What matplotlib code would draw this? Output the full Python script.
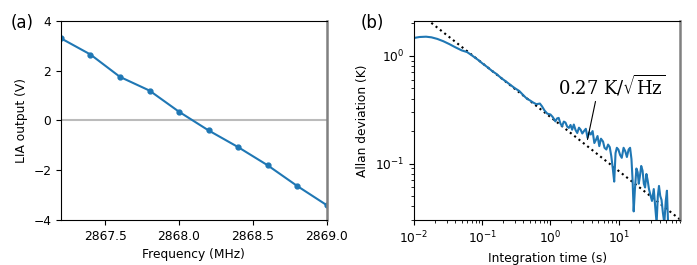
import matplotlib
matplotlib.use('Agg')
import matplotlib.pyplot as plt
import numpy as np

plt.rcParams['font.size'] = 8.8
plt.rcParams['mathtext.fontset'] = 'dejavuserif'

# (a) LIA output vs frequency
freq = [2867.2, 2867.4, 2867.6, 2867.8, 2868.0, 2868.2, 2868.4, 2868.6, 2868.8, 2869.0]
lia = [3.3, 2.65, 1.75, 1.2, 0.35, -0.4, -1.07, -1.8, -2.63, -3.4]

# (b) Allan deviation vs integration time
tau = [0.010, 0.012, 0.015, 0.018, 0.022, 0.027, 0.033, 0.040, 0.050, 0.060,
       0.070, 0.080, 0.090, 0.10, 0.12, 0.14, 0.16, 0.19, 0.22, 0.26,
       0.30, 0.35, 0.40, 0.45, 0.50, 0.55, 0.62, 0.70, 0.75, 0.82,
       0.90, 1.0, 1.08, 1.18, 1.25, 1.32, 1.40, 1.48, 1.57, 1.66,
       1.76, 1.86, 1.97, 2.08, 2.2, 2.33, 2.47, 2.62, 2.77, 2.93,
       3.1, 3.3, 3.5, 3.7, 3.9, 4.15, 4.4, 4.65, 4.9, 5.2,
       5.5, 5.9, 6.2, 6.6, 7.0, 7.4, 7.8, 8.2, 8.6, 9.0,
       9.4, 9.9, 10.5, 11.1, 11.8, 12.5, 13.2, 14.0, 14.7, 15.4,
       16.0, 16.6, 17.3, 18.2, 19.0, 19.7, 20.4, 21.4, 22.4, 23.4,
       24.4, 25.5, 26.6, 27.8, 29.0, 30.8, 32.7, 34.3, 36.0, 37.5,
       39.0, 40.7, 42.5, 44.5, 46.7, 49.0, 51.0, 53.0]
adev = [1.46, 1.49, 1.50, 1.48, 1.43, 1.36, 1.28, 1.20, 1.12, 1.08,
        1.01, 0.95, 0.90, 0.85, 0.78, 0.72, 0.68, 0.62, 0.58, 0.535,
        0.50, 0.47, 0.43, 0.40, 0.385, 0.37, 0.355, 0.36, 0.34, 0.31,
        0.29, 0.285, 0.27, 0.246, 0.262, 0.265, 0.235, 0.222, 0.245, 0.24,
        0.22, 0.214, 0.228, 0.206, 0.23, 0.205, 0.192, 0.215, 0.206, 0.19,
        0.20, 0.21, 0.173, 0.195, 0.186, 0.20, 0.155, 0.166, 0.18, 0.145,
        0.17, 0.16, 0.14, 0.135, 0.15, 0.142, 0.117, 0.09, 0.068, 0.125,
        0.14, 0.135, 0.12, 0.113, 0.14, 0.13, 0.115, 0.135, 0.14, 0.11,
        0.07, 0.036, 0.0575, 0.09, 0.083, 0.065, 0.075, 0.095, 0.086, 0.065,
        0.06, 0.08, 0.07, 0.058, 0.052, 0.045, 0.058, 0.04, 0.028, 0.05,
        0.062, 0.05, 0.046, 0.035, 0.028, 0.045, 0.056, 0.028]
sens = 0.27  # K/sqrt(Hz)
fit_tau = [0.01, 80]

fig = plt.figure(figsize=(6.97, 2.65), dpi=100)
ax1 = fig.add_axes([0.0875, 0.170, 0.381, 0.751])
ax2 = fig.add_axes([0.594, 0.170, 0.382, 0.751])

ax1.axhline(0, color='#bbbbbb', lw=1.5, zorder=1)
ax1.plot(freq, lia, 'o-', color='tab:blue', ms=3.5, lw=1.5, zorder=2)
ax1.set_xlim(2867.2, 2869.0)
ax1.set_ylim(-4, 4)
ax1.set_xticks([2867.5, 2868.0, 2868.5, 2869.0])
ax1.set_yticks([-4, -2, 0, 2, 4])
ax1.set_xlabel('Frequency (MHz)')
ax1.set_ylabel('LIA output (V)')

ft = np.array(fit_tau)
ax2.plot(ft, sens / np.sqrt(ft), ':', color='black', lw=1.5)
ax2.plot(tau, adev, color='tab:blue', lw=1.5)
ax2.set_xscale('log')
ax2.set_yscale('log')
ax2.set_xlim(1e-2, 80)
ax2.set_ylim(0.03, 2.1)
ax2.set_xlabel('Integration time (s)')
ax2.set_ylabel('Allan deviation (K)')
ax2.annotate(r'0.27 K/$\sqrt{\mathrm{Hz}}$', xy=(3.49, 0.167), xytext=(1.31, 0.435),
             fontsize=13, family='DejaVu Serif',
             arrowprops=dict(arrowstyle='-', color='black', lw=0.8, shrinkA=0, shrinkB=0,
                             relpos=(0.35, 0.0)))

for ax in (ax1, ax2):
    ax.spines['right'].set_color('#808080')
    ax.spines['right'].set_linewidth(1.8)

fig.text(0.015, 0.895, '(a)', fontsize=12)
fig.text(0.518, 0.895, '(b)', fontsize=12)

fig.savefig('out.png', dpi=100)
